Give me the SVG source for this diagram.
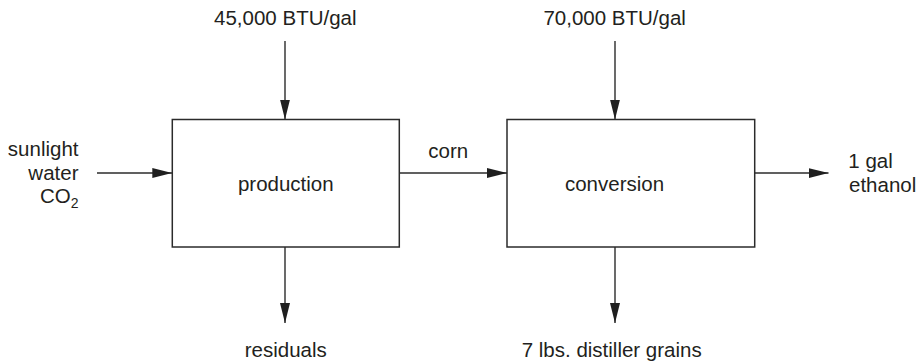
<svg xmlns="http://www.w3.org/2000/svg" width="919" height="364" viewBox="0 0 919 364">
  <style>
    .box { fill: #ffffff; stroke: #2b2b2b; stroke-width: 1.5; }
    .flow { fill: none; stroke: #2b2b2b; stroke-width: 1.4; marker-end: url(#head); }
    text { font-family: "Liberation Sans", Arial, Helvetica, sans-serif; font-size: 20.5px; fill: #231f20; }
    .mid { text-anchor: middle; }
    .end { text-anchor: end; }
  </style>
  <defs>
    <marker id="head" markerUnits="userSpaceOnUse" markerWidth="20" markerHeight="10" refX="20" refY="5" orient="auto">
      <path d="M0,0 L20,5 L0,10 Z" fill="#1f1f1f"/>
    </marker>
  </defs>

  <rect width="919" height="364" fill="#ffffff"/>

  <!-- flows between stages and in/out of the system -->
  <g id="connectors">
    <line class="flow" x1="285" y1="41" x2="285" y2="119.5"/>
    <line class="flow" x1="615" y1="41" x2="615" y2="119.5"/>
    <line class="flow" x1="97" y1="173" x2="172.3" y2="173"/>
    <line class="flow" x1="399.3" y1="173" x2="507" y2="173"/>
    <line class="flow" x1="754.7" y1="173" x2="828.5" y2="173"/>
    <line class="flow" x1="285" y1="247" x2="285" y2="323"/>
    <line class="flow" x1="615" y1="247" x2="615" y2="323"/>
  </g>

  <g id="production">
    <rect class="box" x="172.3" y="119.5" width="227" height="127.5"/>
    <text class="mid" x="285.8" y="191">production</text>
  </g>

  <g id="conversion">
    <rect class="box" x="507" y="119.5" width="247.7" height="127.5"/>
    <text class="mid" x="614.5" y="191">conversion</text>
  </g>

  <g id="energy-production">
    <text class="mid" x="285.3" y="25">45,000 BTU/gal</text>
  </g>

  <g id="energy-conversion">
    <text class="mid" x="614.7" y="25">70,000 BTU/gal</text>
  </g>

  <g id="inputs">
    <text class="end" x="78.5" y="156">sunlight</text>
    <text class="end" x="78.5" y="179.5">water</text>
    <text class="end" x="78.5" y="203.3">CO<tspan font-size="14" dy="5">2</tspan></text>
  </g>

  <g id="corn">
    <text x="428.3" y="158.3">corn</text>
  </g>

  <g id="ethanol">
    <text x="848.3" y="168.3">1 gal</text>
    <text x="849" y="191.7">ethanol</text>
  </g>

  <g id="residuals">
    <text class="mid" x="285.8" y="356.5">residuals</text>
  </g>

  <g id="distiller-grains">
    <text class="mid" x="611.7" y="356.5">7 lbs. distiller grains</text>
  </g>
</svg>
